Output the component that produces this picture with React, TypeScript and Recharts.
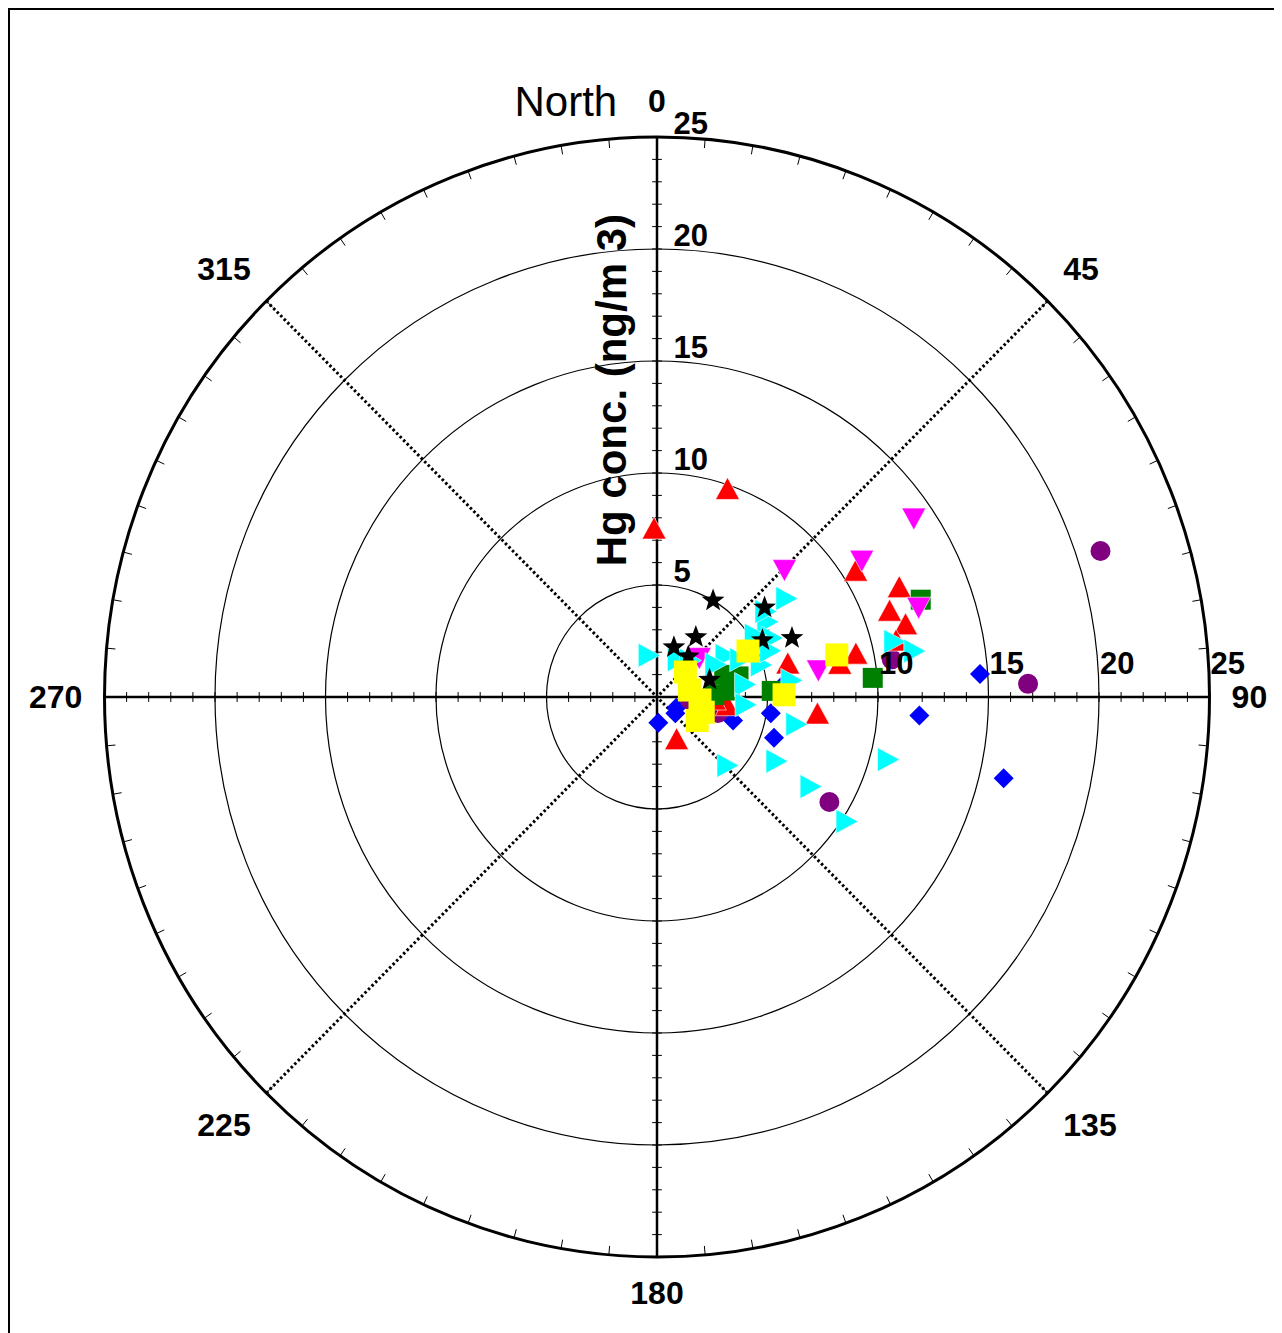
import React from 'react';
import { ScatterChart, Scatter, XAxis, YAxis, ReferenceLine, ReferenceArea, ReferenceDot } from 'recharts';

// wind direction (deg clockwise from north) and Hg concentration (ng/m3), one pair of lists per marker
const redDir = [19, 359, 58, 66, 70, 74, 77, 78, 80, 96, 155, 76, 97, 93];
const redHg = [9.8, 7.5, 10.6, 12.0, 11.2, 11.7, 11.1, 9.2, 8.4, 7.3, 2.1, 6.1, 3.2, 2.6];

const magentaDir = [55.5, 56.6, 45.4, 71.3, 80.6, 47.4];
const magentaHg = [14.1, 11.1, 8.1, 12.5, 7.4, 2.6];

const cyanDir = [348, 53, 56, 63, 29, 59, 66, 73, 82, 83, 77, 80, 101, 134, 118, 120, 105, 123, 61, 52, 95, 42, 68, 58];
const cyanHg = [1.9, 7.3, 6.0, 5.8, 1.9, 3.6, 4.1, 4.9, 4.0, 6.1, 11.0, 11.8, 6.4, 4.4, 6.1, 8.0, 10.8, 10.2, 3.0, 6.2, 4.0, 2.2, 5.5, 5.2];

const greenDir = [70, 85, 87, 72, 85, 61, 88, 76];
const greenHg = [12.7, 9.8, 5.2, 3.2, 3.3, 5.3, 2.6, 3.8];

const yellowDir = [77, 63.5, 89, 49, 78, 94, 120, 108];
const yellowHg = [8.35, 4.6, 5.75, 1.7, 1.5, 1.95, 2.1, 2.2];

const blueDir = [86, 94, 103, 98, 109, 177, 131, 107, 84, 119];
const blueHg = [14.65, 11.9, 16.1, 5.2, 5.6, 1.15, 1.1, 3.6, 5.8, 1.0];

const purpleDir = [72, 88, 121, 81, 104.5, 95];
const purpleHg = [21.1, 16.8, 9.1, 10.75, 2.85, 1.5];

const starDir = [30.5, 50.6, 66.7, 33.3, 19, 38, 62, 72];
const starHg = [5.0, 6.3, 6.65, 3.2, 2.35, 2.3, 5.4, 2.5];

const rings = [5, 10, 15, 20];
const outer = 25;
const angleLabels = [0, 45, 90, 135, 180, 225, 270, 315];
const radiusLabels = [5, 10, 15, 20, 25];
const eastLabels = [10, 15, 20, 25];

const rad = (d: number) => (d * Math.PI) / 180;
const toXY = (dir: number[], hg: number[]) =>
  dir.map((d, i) => ({ x: hg[i] * Math.sin(rad(d)), y: hg[i] * Math.cos(rad(d)), dir: d, hg: hg[i] }));

const unitTicks = Array.from({ length: 51 }, (_, i) => i - 25).filter((v) => v !== 0);
const ringTicks = Array.from({ length: 72 }, (_, i) => i * 5).filter((a) => a % 90 !== 0);

const FONT = '"Liberation Sans", Arial, sans-serif';

const triUp = (p: any) => (
  <polygon points={`${p.cx},${p.cy - 12} ${p.cx + 12},${p.cy + 10} ${p.cx - 12},${p.cy + 10}`} fill="#ff0000" stroke="#fff" strokeWidth={0.6} />
);
const triDown = (p: any) => (
  <polygon points={`${p.cx - 12},${p.cy - 10} ${p.cx + 12},${p.cy - 10} ${p.cx},${p.cy + 12}`} fill="#ff00ff" stroke="#fff" strokeWidth={0.6} />
);
const triRight = (p: any) => (
  <polygon points={`${p.cx - 10},${p.cy - 12} ${p.cx + 12},${p.cy} ${p.cx - 10},${p.cy + 12}`} fill="#00ffff" stroke="#fff" strokeWidth={0.6} />
);
const square = (color: string, s: number) => (p: any) => (
  <rect x={p.cx - s / 2} y={p.cy - s / 2} width={s} height={s} fill={color} />
);
const diamond = (p: any) => (
  <polygon points={`${p.cx},${p.cy - 10} ${p.cx + 10},${p.cy} ${p.cx},${p.cy + 10} ${p.cx - 10},${p.cy}`} fill="#0000ff" />
);
const dot = (p: any) => <circle cx={p.cx} cy={p.cy} r={10} fill="#800080" />;
const star = (p: any) => {
  const pts: string[] = [];
  for (let i = 0; i < 10; i++) {
    const r = i % 2 === 0 ? 12 : 5;
    const a = (Math.PI / 5) * i - Math.PI / 2;
    pts.push(`${p.cx + r * Math.cos(a)},${p.cy + r * Math.sin(a)}`);
  }
  return <polygon points={pts.join(' ')} fill="#000" />;
};

const ring = (w: number) => (p: any) => (
  <ellipse cx={p.x + p.width / 2} cy={p.y + p.height / 2} rx={p.width / 2} ry={p.height / 2} fill="none" stroke="#000" strokeWidth={w} />
);

const text = (value: string, anchor: string, size: number, weight: string, dy = 0, rotate = false) => (p: any) => (
  <text
    x={p.cx}
    y={p.cy}
    dy={dy}
    textAnchor={anchor}
    fontSize={size}
    fontWeight={weight}
    fontFamily={FONT}
    fill="#000"
    transform={rotate ? `rotate(-90 ${p.cx} ${p.cy})` : undefined}
  >
    {value}
  </text>
);

export default function App() {
  return (
    <div style={{ border: '2px solid #000', width: 1266, height: 1330, overflow: 'hidden' }}>
      <ScatterChart width={1266} height={1320} margin={{ top: 127, right: 66.5, bottom: 73, left: 94.5 }}>
        <XAxis type="number" dataKey="x" domain={[-25, 25]} allowDataOverflow hide />
        <YAxis type="number" dataKey="y" domain={[-25, 25]} allowDataOverflow hide />

        {rings.map((r) => (
          <ReferenceArea key={'r' + r} x1={-r} x2={r} y1={-r} y2={r} ifOverflow="visible" shape={ring(1.2)} />
        ))}
        <ReferenceArea x1={-outer} x2={outer} y1={-outer} y2={outer} ifOverflow="visible" shape={ring(3)} />

        {[45, 135].map((a) => (
          <ReferenceLine
            key={'d' + a}
            ifOverflow="visible"
            segment={[
              { x: outer * Math.sin(rad(a)), y: outer * Math.cos(rad(a)) },
              { x: -outer * Math.sin(rad(a)), y: -outer * Math.cos(rad(a)) },
            ]}
            stroke="#000"
            strokeWidth={3}
            strokeDasharray="2.5 2.5"
          />
        ))}

        {ringTicks.map((a) => (
          <ReferenceLine
            key={'rt' + a}
            ifOverflow="visible"
            segment={[
              { x: outer * Math.sin(rad(a)), y: outer * Math.cos(rad(a)) },
              { x: 24.6 * Math.sin(rad(a)), y: 24.6 * Math.cos(rad(a)) },
            ]}
            stroke="#000"
            strokeWidth={1}
          />
        ))}

        <ReferenceLine ifOverflow="visible" segment={[{ x: -outer, y: 0 }, { x: outer, y: 0 }]} stroke="#000" strokeWidth={2.5} />
        <ReferenceLine ifOverflow="visible" segment={[{ x: 0, y: -outer }, { x: 0, y: outer }]} stroke="#000" strokeWidth={2.5} />
        {unitTicks.map((v) => (
          <ReferenceLine key={'tx' + v} ifOverflow="visible" segment={[{ x: v, y: -0.22 }, { x: v, y: 0.22 }]} stroke="#000" strokeWidth={1} />
        ))}
        {unitTicks.map((v) => (
          <ReferenceLine key={'ty' + v} ifOverflow="visible" segment={[{ x: -0.22, y: v }, { x: 0.22, y: v }]} stroke="#000" strokeWidth={1} />
        ))}

        <Scatter name="blue" data={toXY(blueDir, blueHg)} shape={diamond} isAnimationActive={false} />
        <Scatter name="purple" data={toXY(purpleDir, purpleHg)} shape={dot} isAnimationActive={false} />
        <Scatter name="red" data={toXY(redDir, redHg)} shape={triUp} isAnimationActive={false} />
        <Scatter name="green" data={toXY(greenDir, greenHg)} shape={square('#008000', 20)} isAnimationActive={false} />
        <Scatter name="magenta" data={toXY(magentaDir, magentaHg)} shape={triDown} isAnimationActive={false} />
        <Scatter name="cyan" data={toXY(cyanDir, cyanHg)} shape={triRight} isAnimationActive={false} />
        <Scatter name="star" data={toXY(starDir, starHg)} shape={star} isAnimationActive={false} />
        <Scatter name="yellow" data={toXY(yellowDir, yellowHg)} shape={square('#ffff00', 23)} isAnimationActive={false} />

        {angleLabels.map((a) => {
          const s = Math.sin(rad(a));
          const c = Math.cos(rad(a));
          const ry = Math.abs(s) < 0.1 ? 26.6 : 27.0;
          const anchor = s > 0.1 ? 'start' : s < -0.1 ? 'end' : 'middle';
          return (
            <ReferenceDot key={'al' + a} x={26.0 * s} y={ry * c} r={0} ifOverflow="visible" shape={text(String(a), anchor, 32, 'bold', 11)} />
          );
        })}
        <ReferenceDot x={-1.8} y={26.6} r={0} ifOverflow="visible" shape={text('North', 'end', 42, 'normal', 15)} />

        {radiusLabels.map((v) => (
          <ReferenceDot key={'rl' + v} x={0.75} y={v + 0.62} r={0} ifOverflow="visible" shape={text(String(v), 'start', 31, 'bold', 11)} />
        ))}
        {eastLabels.map((v) => (
          <ReferenceDot key={'el' + v} x={v + 0.05} y={1.52} r={0} ifOverflow="visible" shape={text(String(v), 'start', 31, 'bold', 11)} />
        ))}
        <ReferenceDot x={-2.1} y={13.7} r={0} ifOverflow="visible" shape={text('Hg conc. (ng/m 3)', 'middle', 42, 'bold', 15, true)} />
      </ScatterChart>
    </div>
  );
}
